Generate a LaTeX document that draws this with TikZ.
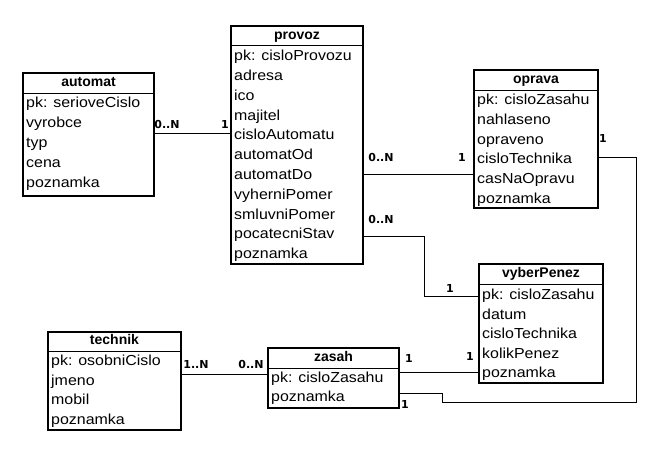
\documentclass[tikz,border=0pt]{standalone}
\usepackage{fontspec}
\setmainfont{Liberation Sans}
\newfontfamily\attrfont{Liberation Sans}[FakeStretch=1.1]
\newfontfamily\labfont{DejaVu Sans}
\begin{document}
\begin{tikzpicture}[x=1pt,y=-1pt,
  entbox/.style={draw, line width=2pt, inner sep=0pt},
  hdr/.style={inner sep=0pt, text height=10.5pt, text depth=3pt, font=\fontsize{14}{14}\selectfont\bfseries},
  attr/.style={inner sep=0pt, anchor=west, text height=10.5pt, text depth=3pt, font=\attrfont\fontsize{14.5}{14.5}\selectfont},
  sep/.style={line width=0.8pt},
  conn/.style={line width=0.9pt},
  lab/.style={inner sep=0pt, text height=8pt, text depth=0pt, font=\labfont\fontsize{11}{11}\selectfont\bfseries}]
\useasboundingbox (0,0) rectangle (668,450);
\fill[white] (0,0) rectangle (668,450);

% automat
\node[entbox, minimum width=131pt, minimum height=123pt] (automat) at (88.5,134.5) {};
\node[hdr] (automat-h) at (88.5,83) {automat};
\draw[sep] (automat.west |- 0,93) -- (automat.east |- 0,93);
\foreach \t [count=\i] in {pk: serioveCislo, vyrobce, typ, cena, poznamka}
  \node[attr] (automat-\i) at (26,{104+20*(\i-1)}) {\t};

% provoz
\node[entbox, minimum width=132pt, minimum height=238pt] (provoz) at (297,145) {};
\node[hdr] (provoz-h) at (297,36) {provoz};
\draw[sep] (provoz.west |- 0,45) -- (provoz.east |- 0,45);
\foreach \t [count=\i] in {pk: cisloProvozu, adresa, ico, majitel, cisloAutomatu, automatOd, automatDo, vyherniPomer, smluvniPomer, pocatecniStav, poznamka}
  \node[attr] (provoz-\i) at (234,{57+19.8*(\i-1)}) {\t};

% oprava
\node[entbox, minimum width=124pt, minimum height=138pt] (oprava) at (536,139) {};
\node[hdr] (oprava-h) at (536,80) {oprava};
\draw[sep] (oprava.west |- 0,90) -- (oprava.east |- 0,90);
\foreach \t [count=\i] in {pk: cisloZasahu, nahlaseno, opraveno, cisloTechnika, casNaOpravu, poznamka}
  \node[attr] (oprava-\i) at (477,{101+19.7*(\i-1)}) {\t};

% vyberPenez
\node[entbox, minimum width=124pt, minimum height=119pt] (vyber) at (541,323.5) {};
\node[hdr] (vyber-h) at (541,274) {vyberPenez};
\draw[sep] (vyber.west |- 0,284) -- (vyber.east |- 0,284);
\foreach \t [count=\i] in {pk: cisloZasahu, datum, cisloTechnika, kolikPenez, poznamka}
  \node[attr] (vyber-\i) at (482,{296+19.5*(\i-1)}) {\t};

% technik
\node[entbox, minimum width=133pt, minimum height=98pt] (technik) at (114.5,381) {};
\node[hdr] (technik-h) at (114.5,341) {technik};
\draw[sep] (technik.west |- 0,351) -- (technik.east |- 0,351);
\foreach \t [count=\i] in {pk: osobniCislo, jmeno, mobil, poznamka}
  \node[attr] (technik-\i) at (51,{362+19.6*(\i-1)}) {\t};

% zasah
\node[entbox, minimum width=131pt, minimum height=60pt] (zasah) at (333.5,378) {};
\node[hdr] (zasah-h) at (333.5,358) {zasah};
\draw[sep] (zasah.west |- 0,368) -- (zasah.east |- 0,368);
\foreach \t [count=\i] in {pk: cisloZasahu, poznamka}
  \node[attr] (zasah-\i) at (271,{379+19*(\i-1)}) {\t};

% connectors
\draw[conn] (automat.east |- 0,133) -- (provoz.west |- 0,133);
\node[lab] (la1) at (167,124) {0..N};
\node[lab] (la2) at (225,124) {1};

\draw[conn] (provoz.east |- 0,174) -- (oprava.west |- 0,174);
\node[lab] (lb1) at (381,157) {0..N};
\node[lab] (lb2) at (462,157) {1};

\draw[conn] (provoz.east |- 0,236) -| (424,296) -- (vyber.west |- 0,296);
\node[lab] (lc1) at (381,219) {0..N};
\node[lab] (lc2) at (450,288) {1};

\draw[conn] (zasah.east |- 0,372) -- (vyber.west |- 0,372);
\node[lab] (ld1) at (409,358) {1};
\node[lab] (ld2) at (470,356) {1};

\draw[conn] (zasah.east |- 0,393) -| (442,402) -| (636,157) -- (oprava.east |- 0,157);
\node[lab] (le1) at (405,404) {1};
\node[lab] (le2) at (603,138) {1};

\draw[conn] (technik.east |- 0,374) -- (zasah.west |- 0,374);
\node[lab] (lf1) at (196,364) {1..N};
\node[lab] (lf2) at (251,364) {0..N};
\end{tikzpicture}
\end{document}
